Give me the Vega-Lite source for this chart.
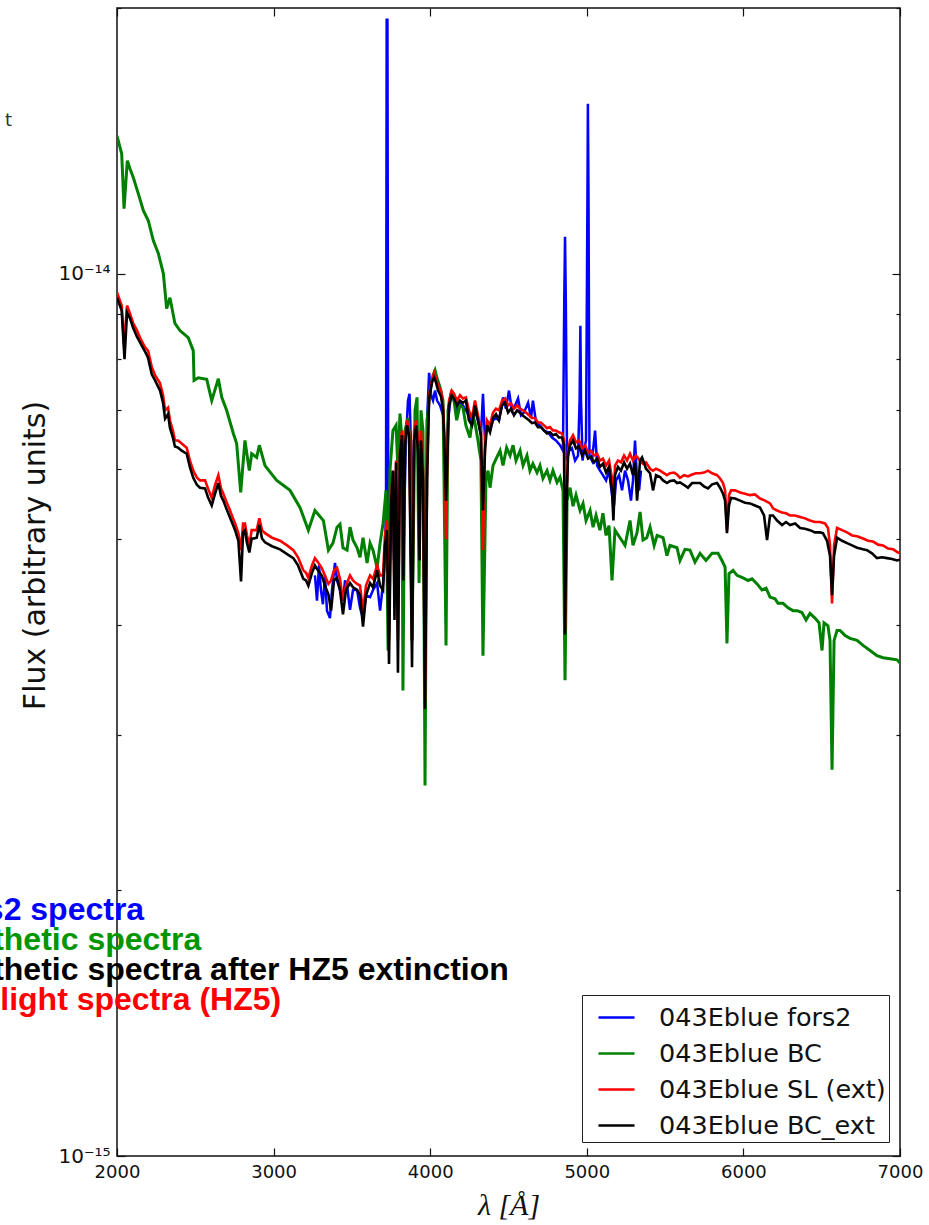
{
"$schema": "https://vega.github.io/schema/vega-lite/v6.json",
"width": 783, "height": 1148,
"autosize": {"type": "none"},
"padding": {"left": 117, "top": 8, "right": 29, "bottom": 69},
"background": "white",
"config": {"font": "DejaVu Sans", "view": {"stroke": "#111", "strokeWidth": 1.5}, "axis": {"grid": false, "domain": false, "tickColor": "#111", "tickWidth": 1.2, "labelColor": "#111", "titleColor": "#111"}},
"datasets": {
"fors2": [{"w":3264,"f":4.55e-15},{"w":3277,"f":4.26e-15},{"w":3290,"f":4.67e-15},{"w":3302,"f":4.38e-15},{"w":3315,"f":4.22e-15},{"w":3328,"f":4.55e-15},{"w":3341,"f":4.15e-15},{"w":3360,"f":4.07e-15},{"w":3373,"f":4.38e-15},{"w":3392,"f":4.70e-15},{"w":3405,"f":4.49e-15},{"w":3424,"f":4.38e-15},{"w":3443,"f":4.26e-15},{"w":3456,"f":4.49e-15},{"w":3469,"f":4.43e-15},{"w":3488,"f":4.16e-15},{"w":3507,"f":4.38e-15},{"w":3533,"f":4.38e-15},{"w":3552,"f":4.18e-15},{"w":3571,"f":4.07e-15},{"w":3590,"f":4.32e-15},{"w":3616,"f":4.30e-15},{"w":3635,"f":4.38e-15},{"w":3661,"f":4.46e-15},{"w":3680,"f":4.15e-15},{"w":3699,"f":4.46e-15},{"w":3711,"f":4.73e-15},{"w":3718,"f":5.53e-15},{"w":3722,"f":19.40e-15},{"w":3727,"f":19.40e-15},{"w":3733,"f":4.26e-15},{"w":3743,"f":4.73e-15},{"w":3756,"f":5.83e-15},{"w":3769,"f":4.73e-15},{"w":3782,"f":5.98e-15},{"w":3794,"f":4.73e-15},{"w":3807,"f":6.30e-15},{"w":3820,"f":6.64e-15},{"w":3833,"f":5.25e-15},{"w":3845,"f":6.47e-15},{"w":3858,"f":7.18e-15},{"w":3868,"f":7.31e-15},{"w":3878,"f":6.30e-15},{"w":3887,"f":4.73e-15},{"w":3897,"f":6.47e-15},{"w":3910,"f":6.64e-15},{"w":3922,"f":6.30e-15},{"w":3932,"f":5.68e-15},{"w":3941,"f":6.47e-15},{"w":3954,"f":5.98e-15},{"w":3967,"f":4.26e-15},{"w":3980,"f":6.82e-15},{"w":3993,"f":7.72e-15},{"w":4006,"f":7.28e-15},{"w":4018,"f":7.18e-15},{"w":4031,"f":7.37e-15},{"w":4044,"f":7.18e-15},{"w":4063,"f":7.09e-15},{"w":4082,"f":6.91e-15},{"w":4101,"f":5.98e-15},{"w":4114,"f":6.82e-15},{"w":4133,"f":7.28e-15},{"w":4152,"f":7.18e-15},{"w":4171,"f":7.00e-15},{"w":4190,"f":7.13e-15},{"w":4209,"f":7.09e-15},{"w":4228,"f":7.00e-15},{"w":4247,"f":6.91e-15},{"w":4267,"f":6.73e-15},{"w":4286,"f":7.00e-15},{"w":4305,"f":6.82e-15},{"w":4324,"f":6.56e-15},{"w":4337,"f":7.31e-15},{"w":4350,"f":6.47e-15},{"w":4363,"f":6.73e-15},{"w":4382,"f":6.64e-15},{"w":4401,"f":6.82e-15},{"w":4420,"f":6.86e-15},{"w":4439,"f":6.82e-15},{"w":4465,"f":7.24e-15},{"w":4484,"f":7.03e-15},{"w":4503,"f":7.37e-15},{"w":4522,"f":7.00e-15},{"w":4542,"f":7.09e-15},{"w":4561,"f":7.22e-15},{"w":4580,"f":6.91e-15},{"w":4599,"f":6.96e-15},{"w":4625,"f":7.14e-15},{"w":4644,"f":6.86e-15},{"w":4656,"f":7.18e-15},{"w":4676,"f":6.78e-15},{"w":4701,"f":6.73e-15},{"w":4727,"f":6.64e-15},{"w":4752,"f":6.61e-15},{"w":4778,"f":6.52e-15},{"w":4803,"f":6.47e-15},{"w":4829,"f":6.39e-15},{"w":4848,"f":6.30e-15},{"w":4856,"f":9.32e-15},{"w":4861,"f":11.01e-15},{"w":4866,"f":9.32e-15},{"w":4874,"f":6.14e-15},{"w":4886,"f":6.30e-15},{"w":4905,"f":6.34e-15},{"w":4925,"f":6.14e-15},{"w":4944,"f":6.22e-15},{"w":4954,"f":7.18e-15},{"w":4959,"f":8.73e-15},{"w":4963,"f":7.18e-15},{"w":4973,"f":6.14e-15},{"w":4982,"f":6.30e-15},{"w":4995,"f":6.47e-15},{"w":5004,"f":12.10e-15},{"w":5007,"f":15.58e-15},{"w":5011,"f":12.10e-15},{"w":5017,"f":6.22e-15},{"w":5033,"f":6.14e-15},{"w":5053,"f":6.64e-15},{"w":5066,"f":6.06e-15},{"w":5084,"f":5.98e-15},{"w":5103,"f":5.91e-15},{"w":5123,"f":5.83e-15},{"w":5142,"f":5.98e-15},{"w":5161,"f":5.61e-15},{"w":5174,"f":5.46e-15},{"w":5187,"f":5.83e-15},{"w":5206,"f":5.91e-15},{"w":5225,"f":5.68e-15},{"w":5244,"f":5.98e-15},{"w":5263,"f":5.83e-15},{"w":5282,"f":5.53e-15},{"w":5295,"f":5.83e-15},{"w":5308,"f":6.47e-15},{"w":5321,"f":5.83e-15},{"w":5334,"f":5.68e-15},{"w":5346,"f":5.98e-15}],
"bc": [{"w":2000,"f":14.33e-15},{"w":2030,"f":13.67e-15},{"w":2045,"f":11.85e-15},{"w":2066,"f":13.43e-15},{"w":2083,"f":13.15e-15},{"w":2104,"f":12.85e-15},{"w":2136,"f":12.32e-15},{"w":2168,"f":11.79e-15},{"w":2200,"f":11.48e-15},{"w":2232,"f":10.90e-15},{"w":2264,"f":10.54e-15},{"w":2296,"f":10.00e-15},{"w":2317,"f":9.13e-15},{"w":2338,"f":9.39e-15},{"w":2370,"f":8.78e-15},{"w":2402,"f":8.62e-15},{"w":2455,"f":8.46e-15},{"w":2487,"f":8.18e-15},{"w":2492,"f":7.57e-15},{"w":2519,"f":7.62e-15},{"w":2573,"f":7.59e-15},{"w":2605,"f":7.18e-15},{"w":2647,"f":7.60e-15},{"w":2669,"f":7.24e-15},{"w":2700,"f":7.00e-15},{"w":2743,"f":6.59e-15},{"w":2764,"f":6.42e-15},{"w":2790,"f":5.65e-15},{"w":2817,"f":6.47e-15},{"w":2845,"f":5.98e-15},{"w":2860,"f":6.25e-15},{"w":2892,"f":6.19e-15},{"w":2909,"f":6.39e-15},{"w":2945,"f":6.06e-15},{"w":3020,"f":5.83e-15},{"w":3105,"f":5.68e-15},{"w":3169,"f":5.43e-15},{"w":3222,"f":5.12e-15},{"w":3264,"f":5.39e-15},{"w":3318,"f":5.25e-15},{"w":3350,"f":4.86e-15},{"w":3379,"f":4.95e-15},{"w":3405,"f":5.16e-15},{"w":3424,"f":5.20e-15},{"w":3443,"f":4.89e-15},{"w":3469,"f":4.86e-15},{"w":3488,"f":5.16e-15},{"w":3507,"f":4.99e-15},{"w":3533,"f":4.89e-15},{"w":3552,"f":4.77e-15},{"w":3571,"f":5.02e-15},{"w":3597,"f":4.70e-15},{"w":3616,"f":4.95e-15},{"w":3635,"f":4.86e-15},{"w":3661,"f":4.64e-15},{"w":3680,"f":4.95e-15},{"w":3699,"f":5.21e-15},{"w":3718,"f":5.68e-15},{"w":3731,"f":3.74e-15},{"w":3743,"f":5.98e-15},{"w":3762,"f":6.64e-15},{"w":3782,"f":6.73e-15},{"w":3794,"f":5.98e-15},{"w":3807,"f":6.94e-15},{"w":3820,"f":6.47e-15},{"w":3826,"f":3.37e-15},{"w":3839,"f":6.64e-15},{"w":3858,"f":6.86e-15},{"w":3871,"f":6.47e-15},{"w":3884,"f":3.84e-15},{"w":3903,"f":7.00e-15},{"w":3916,"f":7.24e-15},{"w":3929,"f":4.46e-15},{"w":3941,"f":7.00e-15},{"w":3954,"f":6.64e-15},{"w":3967,"f":2.63e-15},{"w":3980,"f":6.82e-15},{"w":3999,"f":7.37e-15},{"w":4018,"f":7.67e-15},{"w":4031,"f":7.77e-15},{"w":4044,"f":7.61e-15},{"w":4063,"f":7.43e-15},{"w":4082,"f":7.18e-15},{"w":4101,"f":3.79e-15},{"w":4114,"f":7.00e-15},{"w":4137,"f":7.37e-15},{"w":4152,"f":7.18e-15},{"w":4169,"f":6.82e-15},{"w":4190,"f":7.09e-15},{"w":4209,"f":7.05e-15},{"w":4228,"f":6.73e-15},{"w":4254,"f":6.52e-15},{"w":4273,"f":6.91e-15},{"w":4286,"f":6.77e-15},{"w":4305,"f":6.47e-15},{"w":4324,"f":6.14e-15},{"w":4337,"f":3.69e-15},{"w":4356,"f":5.83e-15},{"w":4369,"f":5.98e-15},{"w":4382,"f":5.72e-15},{"w":4401,"f":6.06e-15},{"w":4425,"f":6.19e-15},{"w":4446,"f":6.30e-15},{"w":4465,"f":6.06e-15},{"w":4488,"f":6.35e-15},{"w":4510,"f":6.22e-15},{"w":4529,"f":6.39e-15},{"w":4548,"f":6.14e-15},{"w":4574,"f":6.30e-15},{"w":4593,"f":6.06e-15},{"w":4618,"f":6.22e-15},{"w":4637,"f":5.98e-15},{"w":4656,"f":6.09e-15},{"w":4682,"f":5.95e-15},{"w":4701,"f":6.06e-15},{"w":4720,"f":5.86e-15},{"w":4746,"f":5.98e-15},{"w":4765,"f":5.83e-15},{"w":4784,"f":5.98e-15},{"w":4810,"f":5.80e-15},{"w":4829,"f":5.88e-15},{"w":4848,"f":5.68e-15},{"w":4861,"f":3.46e-15},{"w":4874,"f":5.53e-15},{"w":4893,"f":5.72e-15},{"w":4912,"f":5.45e-15},{"w":4931,"f":5.61e-15},{"w":4957,"f":5.39e-15},{"w":4976,"f":5.49e-15},{"w":4995,"f":5.25e-15},{"w":5021,"f":5.39e-15},{"w":5040,"f":5.16e-15},{"w":5059,"f":5.32e-15},{"w":5084,"f":5.12e-15},{"w":5103,"f":5.35e-15},{"w":5123,"f":5.05e-15},{"w":5142,"f":5.18e-15},{"w":5161,"f":4.49e-15},{"w":5180,"f":5.12e-15},{"w":5212,"f":5.02e-15},{"w":5244,"f":4.92e-15},{"w":5276,"f":5.25e-15},{"w":5295,"f":4.92e-15},{"w":5321,"f":5.09e-15},{"w":5340,"f":5.37e-15},{"w":5359,"f":4.99e-15},{"w":5383,"f":5.02e-15},{"w":5404,"f":5.16e-15},{"w":5430,"f":4.92e-15},{"w":5449,"f":5.05e-15},{"w":5487,"f":5.02e-15},{"w":5512,"f":4.79e-15},{"w":5531,"f":4.92e-15},{"w":5576,"f":4.89e-15},{"w":5595,"f":4.73e-15},{"w":5627,"f":4.87e-15},{"w":5659,"f":4.86e-15},{"w":5691,"f":4.71e-15},{"w":5723,"f":4.82e-15},{"w":5761,"f":4.73e-15},{"w":5800,"f":4.82e-15},{"w":5838,"f":4.82e-15},{"w":5863,"f":4.73e-15},{"w":5883,"f":4.65e-15},{"w":5895,"f":3.81e-15},{"w":5908,"f":4.57e-15},{"w":5934,"f":4.61e-15},{"w":5959,"f":4.55e-15},{"w":5998,"f":4.52e-15},{"w":6030,"f":4.49e-15},{"w":6055,"f":4.51e-15},{"w":6087,"f":4.45e-15},{"w":6119,"f":4.38e-15},{"w":6145,"f":4.40e-15},{"w":6170,"f":4.30e-15},{"w":6202,"f":4.28e-15},{"w":6221,"f":4.23e-15},{"w":6253,"f":4.23e-15},{"w":6285,"f":4.18e-15},{"w":6317,"f":4.15e-15},{"w":6343,"f":4.15e-15},{"w":6374,"f":4.13e-15},{"w":6400,"f":4.05e-15},{"w":6425,"f":4.12e-15},{"w":6457,"f":4.07e-15},{"w":6483,"f":4.02e-15},{"w":6502,"f":3.74e-15},{"w":6515,"f":4.02e-15},{"w":6540,"f":3.99e-15},{"w":6553,"f":3.84e-15},{"w":6566,"f":2.74e-15},{"w":6579,"f":3.84e-15},{"w":6598,"f":3.94e-15},{"w":6617,"f":3.94e-15},{"w":6649,"f":3.89e-15},{"w":6681,"f":3.86e-15},{"w":6726,"f":3.84e-15},{"w":6764,"f":3.79e-15},{"w":6809,"f":3.74e-15},{"w":6853,"f":3.69e-15},{"w":6892,"f":3.67e-15},{"w":6936,"f":3.66e-15},{"w":6981,"f":3.65e-15},{"w":7000,"f":3.62e-15}],
"sl": [{"w":2000,"f":9.52e-15},{"w":2030,"f":9.20e-15},{"w":2045,"f":8.29e-15},{"w":2064,"f":9.20e-15},{"w":2083,"f":9.01e-15},{"w":2104,"f":8.78e-15},{"w":2128,"f":8.62e-15},{"w":2147,"f":8.46e-15},{"w":2179,"f":8.25e-15},{"w":2198,"f":8.18e-15},{"w":2222,"f":7.84e-15},{"w":2243,"f":7.67e-15},{"w":2275,"f":7.51e-15},{"w":2294,"f":7.28e-15},{"w":2307,"f":7.00e-15},{"w":2326,"f":7.05e-15},{"w":2338,"f":6.82e-15},{"w":2357,"f":6.64e-15},{"w":2370,"f":6.47e-15},{"w":2390,"f":6.47e-15},{"w":2413,"f":6.42e-15},{"w":2445,"f":6.35e-15},{"w":2466,"f":6.14e-15},{"w":2487,"f":5.98e-15},{"w":2511,"f":5.87e-15},{"w":2530,"f":5.83e-15},{"w":2562,"f":5.83e-15},{"w":2581,"f":5.71e-15},{"w":2605,"f":5.57e-15},{"w":2626,"f":5.76e-15},{"w":2647,"f":5.91e-15},{"w":2664,"f":5.71e-15},{"w":2679,"f":5.63e-15},{"w":2696,"f":5.53e-15},{"w":2722,"f":5.39e-15},{"w":2741,"f":5.28e-15},{"w":2754,"f":5.21e-15},{"w":2775,"f":5.08e-15},{"w":2792,"f":4.86e-15},{"w":2805,"f":5.21e-15},{"w":2817,"f":5.21e-15},{"w":2830,"f":5.05e-15},{"w":2845,"f":4.92e-15},{"w":2860,"f":5.12e-15},{"w":2875,"f":5.12e-15},{"w":2892,"f":5.12e-15},{"w":2909,"f":5.28e-15},{"w":2926,"f":5.12e-15},{"w":2945,"f":5.08e-15},{"w":2990,"f":5.02e-15},{"w":3041,"f":4.98e-15},{"w":3086,"f":4.92e-15},{"w":3126,"f":4.86e-15},{"w":3156,"f":4.77e-15},{"w":3190,"f":4.61e-15},{"w":3207,"f":4.58e-15},{"w":3222,"f":4.52e-15},{"w":3245,"f":4.67e-15},{"w":3264,"f":4.76e-15},{"w":3283,"f":4.71e-15},{"w":3307,"f":4.64e-15},{"w":3328,"f":4.55e-15},{"w":3350,"f":4.45e-15},{"w":3367,"f":4.49e-15},{"w":3386,"f":4.61e-15},{"w":3405,"f":4.64e-15},{"w":3424,"f":4.51e-15},{"w":3443,"f":4.26e-15},{"w":3462,"f":4.43e-15},{"w":3488,"f":4.55e-15},{"w":3507,"f":4.49e-15},{"w":3533,"f":4.45e-15},{"w":3552,"f":4.43e-15},{"w":3571,"f":4.13e-15},{"w":3590,"f":4.43e-15},{"w":3616,"f":4.55e-15},{"w":3635,"f":4.51e-15},{"w":3661,"f":4.67e-15},{"w":3680,"f":4.55e-15},{"w":3699,"f":4.55e-15},{"w":3711,"f":5.05e-15},{"w":3724,"f":5.25e-15},{"w":3737,"f":3.84e-15},{"w":3750,"f":5.53e-15},{"w":3762,"f":5.98e-15},{"w":3772,"f":4.26e-15},{"w":3782,"f":6.14e-15},{"w":3794,"f":3.84e-15},{"w":3807,"f":6.30e-15},{"w":3820,"f":6.64e-15},{"w":3829,"f":4.73e-15},{"w":3839,"f":6.47e-15},{"w":3852,"f":6.82e-15},{"w":3865,"f":6.64e-15},{"w":3884,"f":3.84e-15},{"w":3897,"f":6.64e-15},{"w":3910,"f":6.82e-15},{"w":3922,"f":6.47e-15},{"w":3932,"f":5.39e-15},{"w":3941,"f":6.64e-15},{"w":3954,"f":5.98e-15},{"w":3967,"f":3.29e-15},{"w":3980,"f":5.98e-15},{"w":3993,"f":7.28e-15},{"w":4012,"f":7.57e-15},{"w":4025,"f":7.72e-15},{"w":4037,"f":7.61e-15},{"w":4050,"f":7.47e-15},{"w":4069,"f":7.37e-15},{"w":4082,"f":7.09e-15},{"w":4092,"f":6.47e-15},{"w":4101,"f":5.00e-15},{"w":4111,"f":6.47e-15},{"w":4120,"f":7.18e-15},{"w":4137,"f":7.37e-15},{"w":4152,"f":7.31e-15},{"w":4171,"f":7.18e-15},{"w":4190,"f":7.28e-15},{"w":4209,"f":7.22e-15},{"w":4228,"f":7.24e-15},{"w":4247,"f":7.00e-15},{"w":4267,"f":6.86e-15},{"w":4286,"f":7.18e-15},{"w":4305,"f":6.91e-15},{"w":4324,"f":6.64e-15},{"w":4337,"f":4.86e-15},{"w":4350,"f":6.47e-15},{"w":4363,"f":6.82e-15},{"w":4382,"f":6.73e-15},{"w":4401,"f":6.96e-15},{"w":4420,"f":7.03e-15},{"w":4439,"f":7.00e-15},{"w":4459,"f":7.18e-15},{"w":4478,"f":7.22e-15},{"w":4497,"f":7.09e-15},{"w":4516,"f":7.13e-15},{"w":4535,"f":7.03e-15},{"w":4555,"f":7.09e-15},{"w":4574,"f":7.03e-15},{"w":4593,"f":7.00e-15},{"w":4612,"f":6.96e-15},{"w":4631,"f":6.91e-15},{"w":4650,"f":6.86e-15},{"w":4669,"f":6.86e-15},{"w":4688,"f":6.78e-15},{"w":4707,"f":6.78e-15},{"w":4727,"f":6.73e-15},{"w":4746,"f":6.68e-15},{"w":4765,"f":6.70e-15},{"w":4784,"f":6.64e-15},{"w":4803,"f":6.64e-15},{"w":4822,"f":6.61e-15},{"w":4842,"f":6.59e-15},{"w":4855,"f":6.47e-15},{"w":4861,"f":3.94e-15},{"w":4870,"f":5.53e-15},{"w":4880,"f":6.30e-15},{"w":4893,"f":6.47e-15},{"w":4912,"f":6.56e-15},{"w":4931,"f":6.44e-15},{"w":4950,"f":6.47e-15},{"w":4970,"f":6.34e-15},{"w":4989,"f":6.39e-15},{"w":5008,"f":6.27e-15},{"w":5027,"f":6.30e-15},{"w":5046,"f":6.22e-15},{"w":5066,"f":6.25e-15},{"w":5084,"f":6.14e-15},{"w":5103,"f":6.17e-15},{"w":5123,"f":6.06e-15},{"w":5142,"f":6.14e-15},{"w":5161,"f":5.86e-15},{"w":5170,"f":5.39e-15},{"w":5180,"f":6.06e-15},{"w":5199,"f":6.14e-15},{"w":5218,"f":6.11e-15},{"w":5238,"f":6.22e-15},{"w":5257,"f":6.14e-15},{"w":5276,"f":6.25e-15},{"w":5295,"f":6.14e-15},{"w":5314,"f":6.22e-15},{"w":5340,"f":6.14e-15},{"w":5359,"f":6.09e-15},{"w":5378,"f":6.11e-15},{"w":5404,"f":6.01e-15},{"w":5423,"f":5.98e-15},{"w":5442,"f":6.01e-15},{"w":5468,"f":5.98e-15},{"w":5487,"f":5.95e-15},{"w":5512,"f":5.91e-15},{"w":5531,"f":5.94e-15},{"w":5557,"f":5.95e-15},{"w":5576,"f":5.92e-15},{"w":5595,"f":5.87e-15},{"w":5621,"f":5.91e-15},{"w":5646,"f":5.89e-15},{"w":5672,"f":5.92e-15},{"w":5697,"f":5.94e-15},{"w":5723,"f":5.94e-15},{"w":5748,"f":5.95e-15},{"w":5774,"f":5.98e-15},{"w":5800,"f":5.94e-15},{"w":5832,"f":5.91e-15},{"w":5851,"f":5.86e-15},{"w":5870,"f":5.79e-15},{"w":5883,"f":5.68e-15},{"w":5895,"f":5.12e-15},{"w":5908,"f":5.61e-15},{"w":5921,"f":5.68e-15},{"w":5947,"f":5.68e-15},{"w":5979,"f":5.65e-15},{"w":6010,"f":5.63e-15},{"w":6042,"f":5.61e-15},{"w":6074,"f":5.62e-15},{"w":6106,"f":5.56e-15},{"w":6138,"f":5.53e-15},{"w":6170,"f":5.49e-15},{"w":6189,"f":5.42e-15},{"w":6215,"f":5.39e-15},{"w":6247,"f":5.36e-15},{"w":6272,"f":5.35e-15},{"w":6298,"f":5.32e-15},{"w":6330,"f":5.32e-15},{"w":6362,"f":5.30e-15},{"w":6393,"f":5.28e-15},{"w":6425,"f":5.25e-15},{"w":6457,"f":5.23e-15},{"w":6489,"f":5.23e-15},{"w":6521,"f":5.21e-15},{"w":6540,"f":5.15e-15},{"w":6553,"f":4.92e-15},{"w":6566,"f":4.23e-15},{"w":6579,"f":4.92e-15},{"w":6598,"f":5.15e-15},{"w":6630,"f":5.12e-15},{"w":6662,"f":5.09e-15},{"w":6694,"f":5.05e-15},{"w":6726,"f":5.04e-15},{"w":6764,"f":5.01e-15},{"w":6796,"f":4.98e-15},{"w":6828,"f":4.97e-15},{"w":6860,"f":4.93e-15},{"w":6892,"f":4.92e-15},{"w":6924,"f":4.88e-15},{"w":6956,"f":4.87e-15},{"w":6988,"f":4.83e-15},{"w":7000,"f":4.82e-15}],
"bcext": [{"w":2000,"f":9.39e-15},{"w":2030,"f":9.08e-15},{"w":2048,"f":8.00e-15},{"w":2064,"f":9.03e-15},{"w":2083,"f":8.90e-15},{"w":2104,"f":8.67e-15},{"w":2128,"f":8.48e-15},{"w":2147,"f":8.36e-15},{"w":2179,"f":8.16e-15},{"w":2198,"f":8.03e-15},{"w":2222,"f":7.69e-15},{"w":2243,"f":7.57e-15},{"w":2275,"f":7.37e-15},{"w":2294,"f":7.14e-15},{"w":2307,"f":6.85e-15},{"w":2326,"f":6.93e-15},{"w":2338,"f":6.69e-15},{"w":2357,"f":6.52e-15},{"w":2370,"f":6.37e-15},{"w":2390,"f":6.35e-15},{"w":2413,"f":6.30e-15},{"w":2445,"f":6.25e-15},{"w":2466,"f":6.03e-15},{"w":2487,"f":5.87e-15},{"w":2511,"f":5.76e-15},{"w":2530,"f":5.72e-15},{"w":2562,"f":5.71e-15},{"w":2581,"f":5.58e-15},{"w":2605,"f":5.46e-15},{"w":2626,"f":5.63e-15},{"w":2647,"f":5.79e-15},{"w":2664,"f":5.60e-15},{"w":2679,"f":5.53e-15},{"w":2696,"f":5.43e-15},{"w":2722,"f":5.29e-15},{"w":2741,"f":5.19e-15},{"w":2754,"f":5.12e-15},{"w":2775,"f":4.98e-15},{"w":2792,"f":4.48e-15},{"w":2805,"f":5.09e-15},{"w":2817,"f":5.12e-15},{"w":2830,"f":4.95e-15},{"w":2845,"f":4.83e-15},{"w":2860,"f":5.01e-15},{"w":2875,"f":5.01e-15},{"w":2892,"f":5.02e-15},{"w":2909,"f":5.19e-15},{"w":2926,"f":5.01e-15},{"w":2945,"f":4.96e-15},{"w":2990,"f":4.91e-15},{"w":3041,"f":4.87e-15},{"w":3086,"f":4.81e-15},{"w":3126,"f":4.76e-15},{"w":3156,"f":4.67e-15},{"w":3190,"f":4.51e-15},{"w":3207,"f":4.49e-15},{"w":3222,"f":4.43e-15},{"w":3245,"f":4.58e-15},{"w":3264,"f":4.67e-15},{"w":3283,"f":4.61e-15},{"w":3307,"f":4.55e-15},{"w":3328,"f":4.43e-15},{"w":3350,"f":4.33e-15},{"w":3367,"f":4.15e-15},{"w":3386,"f":4.49e-15},{"w":3405,"f":4.52e-15},{"w":3424,"f":4.38e-15},{"w":3443,"f":4.11e-15},{"w":3462,"f":4.38e-15},{"w":3488,"f":4.46e-15},{"w":3507,"f":4.41e-15},{"w":3533,"f":4.38e-15},{"w":3552,"f":4.32e-15},{"w":3571,"f":3.98e-15},{"w":3590,"f":4.32e-15},{"w":3616,"f":4.46e-15},{"w":3635,"f":4.41e-15},{"w":3661,"f":4.61e-15},{"w":3680,"f":4.43e-15},{"w":3699,"f":4.38e-15},{"w":3711,"f":4.92e-15},{"w":3724,"f":5.12e-15},{"w":3737,"f":3.61e-15},{"w":3750,"f":5.46e-15},{"w":3762,"f":5.98e-15},{"w":3772,"f":4.05e-15},{"w":3782,"f":6.11e-15},{"w":3794,"f":3.53e-15},{"w":3807,"f":6.22e-15},{"w":3820,"f":6.56e-15},{"w":3829,"f":4.49e-15},{"w":3839,"f":6.39e-15},{"w":3852,"f":6.73e-15},{"w":3865,"f":6.56e-15},{"w":3884,"f":3.58e-15},{"w":3897,"f":6.47e-15},{"w":3910,"f":6.73e-15},{"w":3922,"f":6.30e-15},{"w":3932,"f":4.73e-15},{"w":3941,"f":6.47e-15},{"w":3954,"f":5.83e-15},{"w":3967,"f":3.21e-15},{"w":3980,"f":5.83e-15},{"w":3993,"f":7.22e-15},{"w":4012,"f":7.53e-15},{"w":4025,"f":7.63e-15},{"w":4037,"f":7.53e-15},{"w":4050,"f":7.37e-15},{"w":4069,"f":7.26e-15},{"w":4082,"f":7.00e-15},{"w":4092,"f":6.30e-15},{"w":4101,"f":5.53e-15},{"w":4111,"f":6.30e-15},{"w":4120,"f":7.09e-15},{"w":4137,"f":7.28e-15},{"w":4152,"f":7.22e-15},{"w":4171,"f":7.09e-15},{"w":4190,"f":7.18e-15},{"w":4209,"f":7.14e-15},{"w":4228,"f":7.18e-15},{"w":4247,"f":6.82e-15},{"w":4267,"f":6.73e-15},{"w":4286,"f":7.09e-15},{"w":4305,"f":6.82e-15},{"w":4324,"f":6.56e-15},{"w":4337,"f":5.39e-15},{"w":4350,"f":6.30e-15},{"w":4363,"f":6.73e-15},{"w":4382,"f":6.61e-15},{"w":4401,"f":6.86e-15},{"w":4420,"f":6.93e-15},{"w":4439,"f":6.82e-15},{"w":4459,"f":7.09e-15},{"w":4478,"f":7.14e-15},{"w":4497,"f":6.96e-15},{"w":4516,"f":7.03e-15},{"w":4535,"f":6.91e-15},{"w":4555,"f":7.00e-15},{"w":4574,"f":6.95e-15},{"w":4593,"f":6.90e-15},{"w":4612,"f":6.86e-15},{"w":4631,"f":6.82e-15},{"w":4650,"f":6.77e-15},{"w":4669,"f":6.78e-15},{"w":4688,"f":6.70e-15},{"w":4707,"f":6.70e-15},{"w":4727,"f":6.64e-15},{"w":4746,"f":6.59e-15},{"w":4765,"f":6.61e-15},{"w":4784,"f":6.56e-15},{"w":4803,"f":6.58e-15},{"w":4822,"f":6.52e-15},{"w":4842,"f":6.52e-15},{"w":4855,"f":6.39e-15},{"w":4861,"f":3.90e-15},{"w":4870,"f":5.39e-15},{"w":4880,"f":6.22e-15},{"w":4893,"f":6.39e-15},{"w":4912,"f":6.47e-15},{"w":4931,"f":6.34e-15},{"w":4950,"f":6.37e-15},{"w":4970,"f":6.22e-15},{"w":4989,"f":6.30e-15},{"w":5008,"f":6.17e-15},{"w":5027,"f":6.20e-15},{"w":5046,"f":6.11e-15},{"w":5066,"f":6.17e-15},{"w":5084,"f":6.04e-15},{"w":5103,"f":6.09e-15},{"w":5123,"f":5.95e-15},{"w":5142,"f":6.04e-15},{"w":5161,"f":5.68e-15},{"w":5170,"f":5.25e-15},{"w":5180,"f":5.91e-15},{"w":5199,"f":6.04e-15},{"w":5218,"f":5.98e-15},{"w":5238,"f":6.11e-15},{"w":5257,"f":6.01e-15},{"w":5276,"f":6.09e-15},{"w":5295,"f":5.91e-15},{"w":5308,"f":6.11e-15},{"w":5321,"f":5.53e-15},{"w":5340,"f":6.14e-15},{"w":5353,"f":6.19e-15},{"w":5378,"f":6.01e-15},{"w":5404,"f":5.94e-15},{"w":5423,"f":5.68e-15},{"w":5442,"f":5.91e-15},{"w":5468,"f":5.88e-15},{"w":5487,"f":5.83e-15},{"w":5512,"f":5.79e-15},{"w":5531,"f":5.82e-15},{"w":5557,"f":5.83e-15},{"w":5576,"f":5.79e-15},{"w":5595,"f":5.80e-15},{"w":5621,"f":5.76e-15},{"w":5646,"f":5.72e-15},{"w":5672,"f":5.79e-15},{"w":5697,"f":5.79e-15},{"w":5723,"f":5.79e-15},{"w":5748,"f":5.74e-15},{"w":5774,"f":5.71e-15},{"w":5800,"f":5.77e-15},{"w":5832,"f":5.79e-15},{"w":5851,"f":5.72e-15},{"w":5870,"f":5.63e-15},{"w":5883,"f":5.53e-15},{"w":5895,"f":5.08e-15},{"w":5908,"f":5.46e-15},{"w":5921,"f":5.57e-15},{"w":5947,"f":5.56e-15},{"w":5979,"f":5.53e-15},{"w":6010,"f":5.50e-15},{"w":6042,"f":5.49e-15},{"w":6074,"f":5.46e-15},{"w":6106,"f":5.43e-15},{"w":6132,"f":5.32e-15},{"w":6151,"f":4.99e-15},{"w":6170,"f":5.32e-15},{"w":6189,"f":5.32e-15},{"w":6215,"f":5.25e-15},{"w":6247,"f":5.19e-15},{"w":6272,"f":5.23e-15},{"w":6298,"f":5.19e-15},{"w":6330,"f":5.21e-15},{"w":6362,"f":5.15e-15},{"w":6393,"f":5.14e-15},{"w":6425,"f":5.12e-15},{"w":6457,"f":5.09e-15},{"w":6489,"f":5.09e-15},{"w":6508,"f":5.08e-15},{"w":6534,"f":4.98e-15},{"w":6553,"f":4.79e-15},{"w":6566,"f":4.32e-15},{"w":6579,"f":4.79e-15},{"w":6598,"f":5.02e-15},{"w":6630,"f":4.98e-15},{"w":6662,"f":4.95e-15},{"w":6694,"f":4.92e-15},{"w":6726,"f":4.89e-15},{"w":6764,"f":4.87e-15},{"w":6790,"f":4.86e-15},{"w":6821,"f":4.82e-15},{"w":6853,"f":4.76e-15},{"w":6885,"f":4.77e-15},{"w":6917,"f":4.76e-15},{"w":6949,"f":4.75e-15},{"w":6981,"f":4.73e-15},{"w":7000,"f":4.74e-15}],
"notes": [{"w":890,"f":1.85e-15,"label":"fors2 spectra","k":"fors2"},{"w":857,"f":1.712e-15,"label":"synthetic spectra","k":"bc"},{"w":857,"f":1.582e-15,"label":"synthetic spectra after HZ5 extinction","k":"bcext"},{"w":857,"f":1.463e-15,"label":"Starlight spectra (HZ5)","k":"sl"}],
"corner": [{"w":1285,"f":14.7e-15,"label":"t"}]
},
"resolve": {"axis": {"x": "independent", "y": "independent"}},
"layer": [
{"data": {"name": "fors2"}, "mark": {"type": "line", "strokeWidth": 2.5, "clip": true},
 "encoding": {
  "x": {"field": "w", "type": "quantitative", "scale": {"domain": [2000, 7000], "nice": false, "zero": false},
        "axis": {"orient": "bottom", "values": [2000,3000,4000,5000,6000,7000], "tickSize": -8, "labelPadding": 15, "labelFont": "DejaVu Sans", "labelFontSize": 18, "labelFlush": false, "labelOverlap": false, "format": "d",
                 "title": "λ [Å]", "titleFont": "Liberation Serif", "titleFontStyle": "italic", "titleFontWeight": "normal", "titleFontSize": 30, "titleY": 49, "titleBaseline": "middle"}},
  "y": {"field": "f", "type": "quantitative", "scale": {"type": "log", "domain": [1e-15, 2e-14], "nice": false},
        "axis": {"orient": "left", "values": [1e-15, 1e-14], "tickSize": -8, "labelPadding": 15, "labelFont": "DejaVu Sans", "labelFontSize": 20, "labelOverlap": false, "labelFlush": false,
                 "labelExpr": "datum.value < 5e-15 ? '10⁻¹⁵' : '10⁻¹⁴'",
                 "title": "Flux (arbitrary units)", "titleFont": "DejaVu Sans", "titleFontSize": 30, "titleFontWeight": "normal", "titleX": -82, "titleY": 547, "titleBaseline": "middle", "titleAlign": "center", "titleAngle": -90}},
  "color": {"datum": "043Eblue fors2", "type": "nominal",
        "scale": {"domain": ["043Eblue fors2", "043Eblue BC", "043Eblue SL (ext)", "043Eblue BC_ext"], "range": ["#0000ff", "#008000", "#ff0000", "#000000"]},
        "legend": {"orient": "none", "legendX": 465, "legendY": 987, "title": null, "symbolType": "stroke", "symbolStrokeWidth": 2.5, "symbolSize": 1300, "symbolOffset": 12, "labelFont": "DejaVu Sans", "labelFontSize": 25.5, "labelLimit": 400, "labelColor": "#111", "strokeColor": "#222", "fillColor": "white", "padding": 3, "rowPadding": 3, "labelOffset": 23}}
 }},
{"data": {"name": "bc"}, "mark": {"type": "line", "strokeWidth": 3, "clip": true},
 "encoding": {
  "x": {"field": "w", "type": "quantitative", "axis": {"orient": "top", "values": [2000,3000,4000,5000,6000,7000], "tickSize": -8, "labels": false, "title": null}},
  "y": {"field": "f", "type": "quantitative", "axis": {"orient": "right", "values": [1e-15, 1e-14], "tickSize": -8, "labels": false, "title": null}},
  "color": {"datum": "043Eblue BC", "type": "nominal"}
 }},
{"data": {"name": "sl"}, "mark": {"type": "line", "strokeWidth": 2.6, "clip": true},
 "encoding": {
  "x": {"field": "w", "type": "quantitative", "axis": null},
  "y": {"field": "f", "type": "quantitative", "axis": {"orient": "left", "values": [2e-15,3e-15,4e-15,5e-15,6e-15,7e-15,8e-15,9e-15,2e-14], "tickSize": -4, "labels": false, "title": null}},
  "color": {"datum": "043Eblue SL (ext)", "type": "nominal"}
 }},
{"data": {"name": "bcext"}, "mark": {"type": "line", "strokeWidth": 2.6, "clip": true},
 "encoding": {
  "x": {"field": "w", "type": "quantitative", "axis": null},
  "y": {"field": "f", "type": "quantitative", "axis": {"orient": "right", "values": [2e-15,3e-15,4e-15,5e-15,6e-15,7e-15,8e-15,9e-15,2e-14], "tickSize": -4, "labels": false, "title": null}},
  "color": {"datum": "043Eblue BC_ext", "type": "nominal"}
 }},
{"data": {"name": "notes"}, "transform": [{"filter": "datum.k == 'fors2'"}],
 "mark": {"type": "text", "align": "left", "baseline": "alphabetic", "font": "Liberation Sans", "fontWeight": "bold", "fontSize": 32, "color": "#0000ff"},
 "encoding": {"x": {"field": "w", "type": "quantitative", "axis": null}, "y": {"field": "f", "type": "quantitative", "axis": null}, "text": {"field": "label"}}},
{"data": {"name": "notes"}, "transform": [{"filter": "datum.k == 'bc'"}],
 "mark": {"type": "text", "align": "left", "baseline": "alphabetic", "font": "Liberation Sans", "fontWeight": "bold", "fontSize": 32, "color": "#009600"},
 "encoding": {"x": {"field": "w", "type": "quantitative", "axis": null}, "y": {"field": "f", "type": "quantitative", "axis": null}, "text": {"field": "label"}}},
{"data": {"name": "notes"}, "transform": [{"filter": "datum.k == 'bcext'"}],
 "mark": {"type": "text", "align": "left", "baseline": "alphabetic", "font": "Liberation Sans", "fontWeight": "bold", "fontSize": 32, "color": "#000000"},
 "encoding": {"x": {"field": "w", "type": "quantitative", "axis": null}, "y": {"field": "f", "type": "quantitative", "axis": null}, "text": {"field": "label"}}},
{"data": {"name": "notes"}, "transform": [{"filter": "datum.k == 'sl'"}],
 "mark": {"type": "text", "align": "left", "baseline": "alphabetic", "font": "Liberation Sans", "fontWeight": "bold", "fontSize": 32, "color": "#ff0000"},
 "encoding": {"x": {"field": "w", "type": "quantitative", "axis": null}, "y": {"field": "f", "type": "quantitative", "axis": null}, "text": {"field": "label"}}},
{"data": {"name": "corner"}, "mark": {"type": "text", "align": "left", "baseline": "alphabetic", "font": "DejaVu Sans", "fontSize": 18, "color": "#333"},
 "encoding": {
  "x": {"field": "w", "type": "quantitative", "axis": null},
  "y": {"field": "f", "type": "quantitative", "axis": null},
  "text": {"field": "label"}
 }}
]
}
